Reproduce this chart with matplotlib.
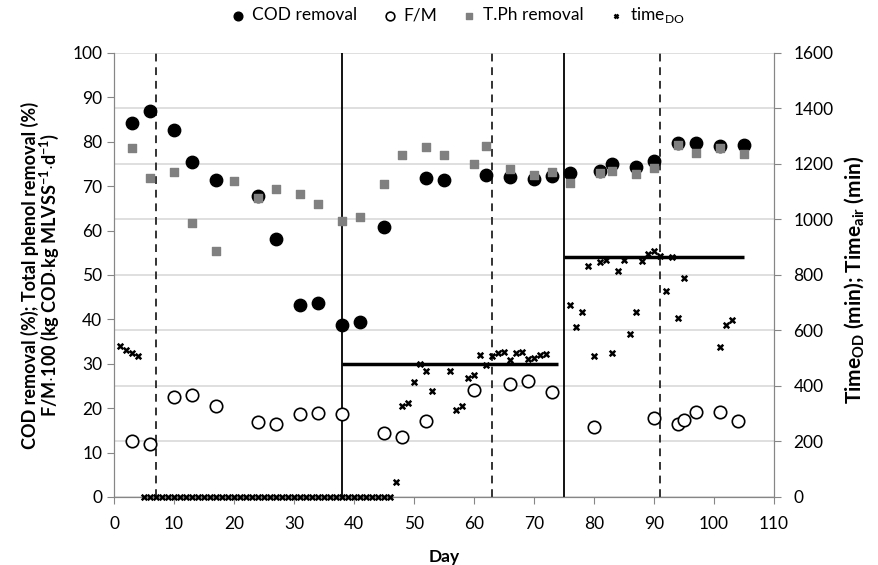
import matplotlib
matplotlib.use("Agg")
import matplotlib.pyplot as plt

plt.rcParams['font.family'] = ['Lato', 'DejaVu Sans']
plt.rcParams['mathtext.fontset'] = 'custom'
plt.rcParams['mathtext.rm'] = 'Lato'
plt.rcParams['mathtext.bf'] = 'Lato:bold'

# COD removal (%)
cod_day = [3, 6, 10, 13, 17, 24, 27, 31, 34, 38, 41, 45, 52, 55, 62, 66, 70, 73,
           76, 81, 83, 87, 90, 94, 97, 101, 105]
cod_val = [84.3, 86.9, 82.7, 75.5, 71.3, 67.9, 58.1, 43.2, 43.6, 38.7, 39.3, 60.8,
           71.8, 71.4, 72.5, 72.0, 71.7, 72.3, 73.0, 73.5, 75.0, 74.4, 75.7, 79.8,
           79.8, 79.1, 79.3]

# total phenol removal (%)
tph_day = [3, 6, 10, 13, 17, 20, 24, 27, 31, 34, 38, 41, 45, 48, 52, 55, 60, 62,
           66, 70, 73, 76, 81, 83, 87, 90, 94, 97, 101, 105]
tph_val = [78.7, 71.9, 73.3, 61.8, 55.5, 71.2, 67.4, 69.4, 68.3, 66.1, 62.2, 63.1,
           70.6, 77.1, 78.9, 77.1, 75.1, 79.1, 73.9, 72.6, 73.3, 70.8, 73.0, 73.5,
           72.7, 74.2, 79.3, 77.5, 78.5, 77.3]

# F/M x 100
fm_day = [3, 6, 10, 13, 17, 24, 27, 31, 34, 38, 45, 48, 52, 60, 66, 69, 73, 80,
          90, 94, 95, 97, 101, 104]
fm_val = [12.7, 11.9, 22.5, 23.0, 20.5, 16.8, 16.5, 18.6, 18.9, 18.8, 14.3, 13.4,
          17.0, 24.2, 25.4, 26.1, 23.7, 15.8, 17.9, 16.5, 17.3, 19.2, 19.2, 17.2]

# time DO (min), right axis
do_day = ([1, 2, 3, 4] + list(range(5, 47)) +
          [47, 48, 49, 50, 51, 52, 53, 56, 57, 58, 59, 60, 61, 62, 63, 64, 65, 66,
           67, 68, 69, 70, 71, 72, 76, 77, 78, 79, 80, 81, 82, 83, 84, 85, 86, 87,
           88, 89, 90, 91, 92, 93, 94, 95, 101, 102, 103])
do_val = ([543, 530, 520, 508] + [0] * 42 +
          [55, 328, 338, 413, 479, 453, 381, 455, 315, 329, 429, 440, 511, 476, 508,
           519, 523, 494, 518, 523, 498, 501, 513, 515, 692, 611, 668, 832, 508, 846,
           853, 520, 814, 853, 589, 668, 852, 876, 888, 868, 743, 864, 644, 788, 542,
           619, 639])

# phase boundaries and set times
dashed_days = [7, 63, 91]
solid_days = [38, 75]
set_start = [38, 75]
set_end = [74, 105]
set_time = [480, 866]

fig = plt.figure(figsize=(8.79, 5.65), dpi=100)
ax = fig.add_axes([0.1297, 0.1204, 0.7508, 0.7858])
ax2 = ax.twinx()
ax.set_zorder(2)
ax.patch.set_visible(False)
ax2.set_zorder(1)

spine_col = '#868686'
fs = 12.5
for a in (ax, ax2):
    a.spines['top'].set_visible(False)
    for side in ('left', 'right', 'bottom'):
        a.spines[side].set_color(spine_col)
    a.tick_params(colors=spine_col, labelcolor='black', labelsize=fs, length=5)
ax.tick_params(axis='x', pad=9)
ax2.tick_params(axis='y', pad=9)

ax.set_xlim(0, 110)
ax.set_ylim(0, 100)
ax.set_xticks(range(0, 111, 10))
ax.set_yticks(range(0, 101, 10))
ax2.set_ylim(0, 1600)
ax2.set_yticks(range(0, 1601, 200))
ax2.grid(axis='y', color='#d9d9d9', lw=1.2)
ax2.set_axisbelow(True)

for d in dashed_days:
    ax.axvline(d, color='#333333', lw=1.4, ls=(0, (4, 3)), zorder=1)
for d in solid_days:
    ax.axvline(d, color='black', lw=1.3, zorder=1)

ax.hlines([t / 16 for t in set_time], set_start, set_end, color='black', lw=2.5, zorder=2)

ax.scatter(cod_day, cod_val, s=80, color='black', zorder=4, label='COD removal')
ax.scatter(fm_day, fm_val, s=80, facecolor='white', edgecolor='black', lw=1.2,
           zorder=4, label='F/M')
ax.scatter(tph_day, tph_val, s=38, marker='s', color='#808080', zorder=4,
           label='T.Ph removal')
ax.scatter(do_day, [v / 16 for v in do_val], s=16, marker='x', color='black', lw=1.8,
           zorder=5, label='time$_\\mathregular{DO}$', clip_on=False)

ax.set_xlabel('Day', fontsize=fs, fontweight='bold')
ax.xaxis.set_label_coords(0.5, -0.117)
ax.set_ylabel('COD removal (%); Total phenol removal (%)\n'
              'F/M$\\cdot$100 (kg COD$\\cdot$kg MLVSS$^{\\mathbf{-1}}$$\\cdot$d$^{\\mathbf{-1}}$)',
              fontsize=13, fontweight='bold', linespacing=0.95)
ax.yaxis.set_label_coords(-0.08, 0.5)
ax2.set_ylabel('Time$_\\mathbf{OD}$ (min); Time$_\\mathbf{air}$ (min)',
               fontsize=15, fontweight='bold')
ax2.yaxis.set_label_coords(1.105, 0.49)

fig.legend(loc='center', bbox_to_anchor=(0.521, 0.973), ncol=4, frameon=False,
           fontsize=fs, columnspacing=1.45, handlelength=0.8, handletextpad=0.4,
           markerscale=0.7)

fig.savefig('out.png', dpi=100)
